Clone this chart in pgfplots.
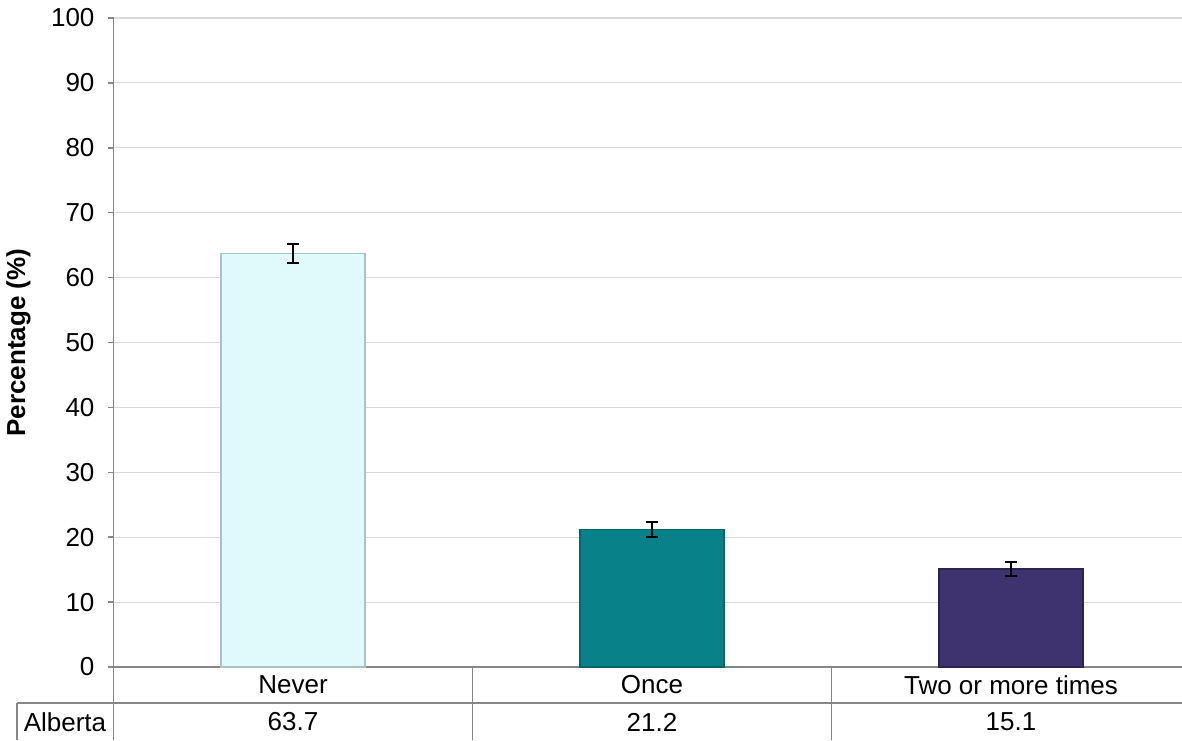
\documentclass[border=0pt]{standalone}
\usepackage{pgfplots}
\pgfplotsset{compat=1.18}
\usepackage{fontspec}
\setmainfont{Liberation Sans}
\definecolor{gridc}{HTML}{D9D9D9}
\definecolor{axc}{HTML}{868686}
\definecolor{neverc}{HTML}{E0F9FB}
\definecolor{neverd}{HTML}{A9C4C6}
\definecolor{oncec}{HTML}{088189}
\definecolor{onced}{HTML}{05646A}
\definecolor{twoc}{HTML}{3E336E}
\definecolor{twod}{HTML}{2B2450}
\begin{document}
\begin{tikzpicture}[font=\fontsize{13}{15.6}\selectfont]
\begin{axis}[
  scale only axis, width=534.25pt, height=324.5pt,
  xmin=-0.5, xmax=2.4763, ymin=0, ymax=100,
  ytick={0,10,...,100}, xtick=\empty,
  ymajorgrids, grid style={gridc, line width=0.6pt},
  axis x line=bottom, axis y line=left,
  axis line style={-, axc, line width=0.75pt},
  tick style={axc, line width=0.75pt}, major tick length=3pt, tick align=outside,
  yticklabel style={xshift=-3pt},
  /pgf/number format/assume math mode=true,
  clip=false,
  ybar, bar width=0.4, bar shift=0pt,
  error bars/error bar style={line width=0.9pt, black},
  error bars/error mark options={rotate=90, mark size=3pt, line width=0.9pt, black},
]
\addplot[fill=neverc, draw=neverd, line width=0.8pt, error bars/.cd, y dir=both, y explicit]
  coordinates {(0,63.7) +- (0,1.5)};
\addplot[fill=oncec, draw=onced, line width=0.8pt, error bars/.cd, y dir=both, y explicit]
  coordinates {(1,21.2) +- (0,1.15)};
\addplot[fill=twoc, draw=twod, line width=0.8pt, error bars/.cd, y dir=both, y explicit]
  coordinates {(2,15.1) +- (0,1.1)};
\coordinate (ylab) at (rel axis cs:0,0.5);
\coordinate (O) at (axis cs:-0.5,0);
\coordinate (D1) at (axis cs:0.5,0);
\coordinate (D2) at (axis cs:1.5,0);
\coordinate (C0) at (axis cs:0,0);
\coordinate (C1) at (axis cs:1,0);
\coordinate (C2) at (axis cs:2,0);
\coordinate (R) at (axis cs:2.4763,0);
\end{axis}
\begin{scope}[axc, line width=0.75pt]
\draw (O) -- ([yshift=-36.5pt]O);
\draw (D1) -- ([yshift=-36.5pt]D1);
\draw (D2) -- ([yshift=-36.5pt]D2);
\draw ([xshift=-48.25pt,yshift=-18pt]O) -- ([yshift=-18pt]R);
\draw ([xshift=-48.25pt,yshift=-18pt]O) -- ([xshift=-48.25pt,yshift=-36.5pt]O);
\end{scope}
\node at ([yshift=-9pt]C0) {Never};
\node at ([yshift=-9pt]C1) {Once};
\node at ([yshift=-9pt]C2) {Two or more times};
\node at ([yshift=-27.5pt]C0) {63.7};
\node at ([yshift=-27.5pt]C1) {21.2};
\node at ([yshift=-27.5pt]C2) {15.1};
\node at ([xshift=-24.25pt,yshift=-27.5pt]O) {Alberta};
\node[rotate=90, font=\fontsize{13}{15.6}\selectfont\bfseries] at ([xshift=-47.5pt]ylab) {Percentage (\%)};
\pgfresetboundingbox
\path[use as bounding box] ([xshift=-56.75pt,yshift=-36.5pt]O) rectangle ([yshift=333.5pt]R);
\end{tikzpicture}
\end{document}
